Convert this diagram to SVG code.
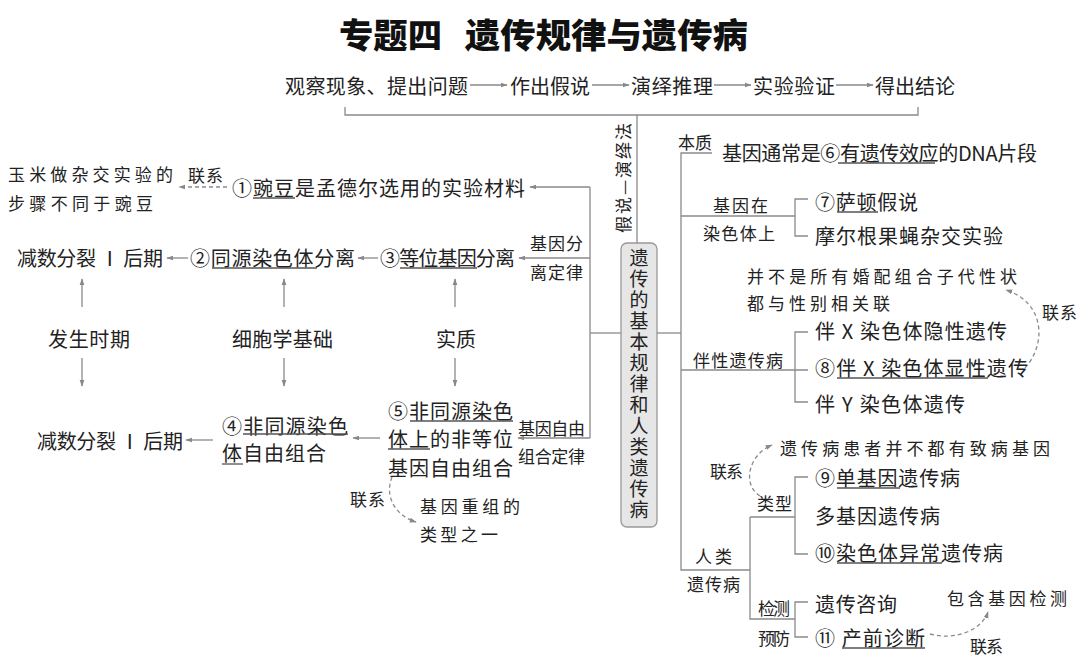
<svg xmlns="http://www.w3.org/2000/svg" width="1080" height="667" viewBox="0 0 1080 667">
<style>
text{font-family:"Noto Sans CJK SC","Noto Sans",sans-serif;fill:#222;dominant-baseline:central}
.ttl{font-size:34px;font-weight:900;fill:#111}
.t{font-size:20px}
.s{font-size:17px}
.n{font-size:17px}
.v{font-size:19px;writing-mode:vertical-rl;letter-spacing:2px}
.ln{fill:none;stroke:#8a8a8a;stroke-width:1.3}
.ar{fill:none;stroke:#8a8a8a;stroke-width:1.3;marker-end:url(#ah)}
.da{fill:none;stroke:#8a8a8a;stroke-width:1.3;stroke-dasharray:4 3;marker-end:url(#ah)}
.ul{stroke:#555;stroke-width:1.3}
</style>
<defs>
<marker id="ah" viewBox="0 0 10 10" refX="9" refY="5" markerWidth="7" markerHeight="7" markerUnits="userSpaceOnUse" orient="auto"><path d="M0,1.5 L10,5 L0,8.5 z" fill="#888"/></marker>
</defs>
<rect width="1080" height="667" fill="#fff"/>
<g id="title">
<text class="ttl" x="339" y="33" textLength="103" lengthAdjust="spacingAndGlyphs">专题四</text>
<text class="ttl" x="465" y="33" textLength="283" lengthAdjust="spacingAndGlyphs">遗传规律与遗传病</text>
</g>
<g id="connectors">
<line class="ar" x1="470" y1="85" x2="507" y2="85"/>
<line class="ar" x1="592" y1="85" x2="629" y2="85"/>
<line class="ar" x1="714" y1="85" x2="751" y2="85"/>
<line class="ar" x1="836" y1="85" x2="873" y2="85"/>
<polyline class="ln" points="345,107 345,115 918,115 918,107"/>
<line class="ln" x1="637" y1="115" x2="637" y2="243"/>
<line class="ln" x1="590" y1="187" x2="590" y2="438"/>
<line class="ln" x1="590" y1="333" x2="621" y2="333"/>
<line class="ar" x1="590" y1="187" x2="530" y2="187"/>
<line class="ar" x1="590" y1="258" x2="519" y2="258"/>
<line class="ar" x1="590" y1="438" x2="518" y2="438"/>
<line class="da" x1="227" y1="187" x2="179" y2="187"/>
<line class="ar" x1="378" y1="258" x2="358" y2="258"/>
<line class="ar" x1="188" y1="258" x2="167" y2="258"/>
<line class="ar" x1="82" y1="307" x2="82" y2="279"/>
<line class="ar" x1="82" y1="358" x2="82" y2="386"/>
<line class="ar" x1="284" y1="307" x2="284" y2="279"/>
<line class="ar" x1="284" y1="358" x2="284" y2="386"/>
<line class="ar" x1="455" y1="307" x2="455" y2="279"/>
<line class="ar" x1="455" y1="358" x2="455" y2="386"/>
<line class="ar" x1="380" y1="438" x2="353" y2="438"/>
<line class="ar" x1="213" y1="440" x2="186" y2="440"/>
<path class="da" d="M392,477 C384,497 396,516 416,522"/>
<line class="ln" x1="657" y1="333" x2="681" y2="333"/>
<path class="ln" d="M712,153 H681 V570 H750"/>
<line class="ln" x1="681" y1="216" x2="795" y2="216"/>
<path class="ln" d="M808,199 H795 V236 H808"/>
<line class="ln" x1="681" y1="370" x2="808" y2="370"/>
<path class="ln" d="M808,332 H795 V402 H808"/>
<path class="da" d="M1025,368 C1046,345 1046,303 1006,290"/>
<path class="ln" d="M750,517 V619 H795"/>
<line class="ln" x1="750" y1="517" x2="795" y2="517"/>
<path class="ln" d="M808,477 H795 V554 H808"/>
<path class="ln" d="M808,602 H795 V637 H808"/>
<path class="da" d="M760,496 C742,485 748,455 772,445"/>
<path class="da" d="M930,634 C955,641 982,630 988,612"/>
</g>
<g id="method">
<text class="t" x="285" y="85" textLength="183">观察现象、提出问题</text>
<text class="t" x="510" y="85" textLength="80">作出假说</text>
<text class="t" x="631" y="85" textLength="82">演绎推理</text>
<text class="t" x="753" y="85" textLength="82">实验验证</text>
<text class="t" x="875" y="85" textLength="80">得出结论</text>
<text class="s" transform="translate(622,178) rotate(-90)" text-anchor="middle" textLength="110">假说—演绎法</text>
</g>
<g id="center">
<rect x="621" y="243" width="36" height="284" rx="6" fill="#e6e6e6" stroke="#999" stroke-width="1.3"/>
<text class="v" x="639" y="248">遗传的基本规律和人类遗传病</text>
</g>
<g id="n1">
<text class="t" x="232" y="187" textLength="293">①豌豆是孟德尔选用的实验材料</text>
<line class="ul" x1="253" y1="198" x2="295" y2="198"/>
</g>
<g id="corn">
<text class="n" x="188" y="174" textLength="35">联系</text>
<text class="n" x="8" y="173" textLength="165">玉米做杂交实验的</text>
<text class="n" x="8" y="202" textLength="145">步骤不同于豌豆</text>
</g>
<g id="law1">
<text class="s" x="530" y="242" textLength="53">基因分</text>
<text class="s" x="530" y="271" textLength="53">离定律</text>
</g>
<g id="n3">
<text class="t" x="380" y="257" textLength="135">③等位基因分离</text>
<line class="ul" x1="400" y1="268" x2="477" y2="268"/>
</g>
<g id="n2">
<text class="t" x="190" y="257" textLength="165">②同源染色体分离</text>
<line class="ul" x1="212" y1="268" x2="317" y2="268"/>
</g>
<g id="time1"><text class="t" x="17" y="257" textLength="146">减数分裂 Ⅰ 后期</text></g>
<g id="lab-time"><text class="t" x="48" y="338" textLength="82">发生时期</text></g>
<g id="lab-cell"><text class="t" x="232" y="338" textLength="101">细胞学基础</text></g>
<g id="lab-ess"><text class="t" x="436" y="338" textLength="40">实质</text></g>
<g id="n5">
<text class="t" x="388" y="410" textLength="125">⑤非同源染色</text>
<text class="t" x="388" y="438" textLength="125">体上的非等位</text>
<text class="t" x="388" y="467" textLength="125">基因自由组合</text>
<line class="ul" x1="410" y1="421" x2="513" y2="421"/>
<line class="ul" x1="388" y1="449" x2="430" y2="449"/>
</g>
<g id="law2">
<text class="s" x="518" y="427" textLength="67">基因自由</text>
<text class="s" x="518" y="455" textLength="67">组合定律</text>
</g>
<g id="n4">
<text class="t" x="222" y="425" textLength="126">④非同源染色</text>
<text class="t" x="222" y="452" textLength="104">体自由组合</text>
<line class="ul" x1="243" y1="434" x2="348" y2="434"/>
<line class="ul" x1="222" y1="464" x2="243" y2="464"/>
</g>
<g id="time2"><text class="t" x="37" y="440" textLength="146">减数分裂 Ⅰ 后期</text></g>
<g id="recomb">
<text class="n" x="350" y="498" textLength="35">联系</text>
<text class="n" x="420" y="505" textLength="100">基因重组的</text>
<text class="n" x="420" y="533" textLength="78">类型之一</text>
</g>
<g id="n6">
<text class="s" x="678" y="141" textLength="34">本质</text>
<text class="t" x="722" y="152" textLength="315">基因通常是⑥有遗传效应的DNA片段</text>
<line class="ul" x1="838" y1="163" x2="935" y2="163"/>
</g>
<g id="n7">
<text class="s" x="713" y="204" textLength="55">基因在</text>
<text class="s" x="703" y="232" textLength="72">染色体上</text>
<text class="t" x="815" y="201" textLength="103">⑦萨顿假说</text>
<line class="ul" x1="837" y1="212" x2="878" y2="212"/>
<text class="t" x="815" y="235" textLength="188">摩尔根果蝇杂交实验</text>
</g>
<g id="n8">
<text class="s" x="693" y="359" textLength="90">伴性遗传病</text>
<text class="t" x="815" y="330" textLength="192">伴 X 染色体隐性遗传</text>
<text class="t" x="815" y="367" textLength="213">⑧伴 X 染色体显性遗传</text>
<line class="ul" x1="837" y1="378" x2="988" y2="378"/>
<text class="t" x="815" y="403" textLength="150">伴 Y 染色体遗传</text>
<text class="n" x="747" y="275" textLength="270">并不是所有婚配组合子代性状</text>
<text class="n" x="747" y="302" textLength="143">都与性别相关联</text>
<text class="n" x="1042" y="311" textLength="35">联系</text>
</g>
<g id="n9">
<text class="s" x="695" y="555" textLength="37">人类</text>
<text class="s" x="687" y="583" textLength="53">遗传病</text>
<text class="s" x="757" y="502" textLength="35">类型</text>
<text class="t" x="815" y="477" textLength="145">⑨单基因遗传病</text>
<line class="ul" x1="837" y1="488" x2="900" y2="488"/>
<text class="t" x="815" y="515" textLength="125">多基因遗传病</text>
<text class="t" x="815" y="552" textLength="188">⑩染色体异常遗传病</text>
<line class="ul" x1="837" y1="563" x2="942" y2="563"/>
<text class="n" x="780" y="447" textLength="270">遗传病患者并不都有致病基因</text>
<text class="n" x="710" y="470" textLength="33">联系</text>
</g>
<g id="n11">
<text class="n" x="758" y="607" textLength="32">检测</text>
<text class="n" x="758" y="637" textLength="32">预防</text>
<text class="t" x="815" y="603" textLength="82">遗传咨询</text>
<text class="t" x="815" y="637" textLength="110">⑪ 产前诊断</text>
<line class="ul" x1="842" y1="648" x2="925" y2="648"/>
<text class="n" x="947" y="597" textLength="120">包含基因检测</text>
<text class="n" x="970" y="645" textLength="33">联系</text>
</g>
</svg>
